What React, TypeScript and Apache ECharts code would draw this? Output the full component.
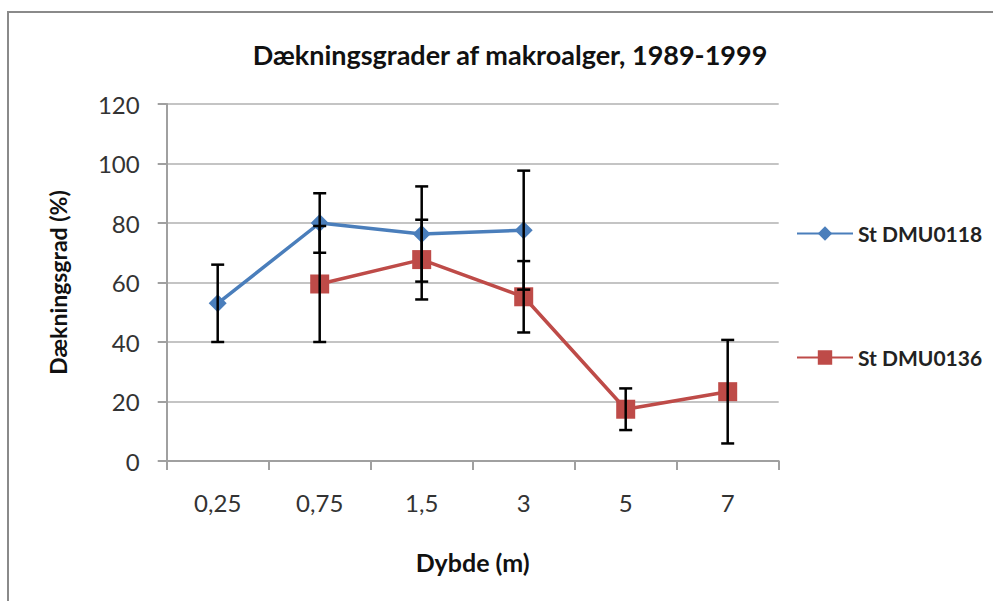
import React, { useEffect, useRef } from 'react';
import * as echarts from 'echarts';

const categories = ['0,25', '0,75', '1,5', '3', '5', '7'];
const seriesNames = ['St DMU0118', 'St DMU0136'];
const dmu0118 = [53, 80, 76.3, 77.6, null, null];
const dmu0118Err = [13, 10, 16, 20, null, null];
const dmu0136 = [null, 59.5, 67.7, 55.2, 17.4, 23.3];
const dmu0136Err = [null, 19.5, 13.4, 12, 7, 17.4];
const yMin = 0;
const yMax = 120;
const yInterval = 20;

const errData = (vals: (number | null)[], errs: (number | null)[]) =>
  vals
    .map((v, i) => (v == null || errs[i] == null ? null : [i, v - (errs[i] as number), v + (errs[i] as number)]))
    .filter((d) => d != null);

const FONT = 'Lato';

export default function App() {
  const ref = useRef<HTMLDivElement>(null);
  useEffect(() => {
    if (!ref.current) return;
    const chart = echarts.init(ref.current, null, { renderer: 'svg' });
    const errRender = (params: any, api: any) => {
      const x = api.value(0);
      const lo = api.value(1);
      const hi = api.value(2);
      const p1 = api.coord([x, hi]);
      const p2 = api.coord([x, lo]);
      const hw = 6.5;
      const style = { stroke: '#000', lineWidth: 2.5 };
      return {
        type: 'group',
        children: [
          { type: 'line', shape: { x1: p1[0], y1: p1[1], x2: p2[0], y2: p2[1] }, style },
          { type: 'line', shape: { x1: p1[0] - hw, y1: p1[1], x2: p1[0] + hw, y2: p1[1] }, style },
          { type: 'line', shape: { x1: p2[0] - hw, y1: p2[1], x2: p2[0] + hw, y2: p2[1] }, style },
        ],
      };
    };
    const legendText = { fontFamily: FONT, fontSize: 21, fontWeight: 'bold', color: '#222' };
    chart.setOption({
      animation: false,
      backgroundColor: '#fff',
      title: {
        text: 'Dækningsgrader af makroalger, 1989-1999',
        left: 505,
        textAlign: 'center',
        top: 36,
        textStyle: { fontFamily: FONT, fontSize: 27, fontWeight: 'bold', color: '#111' },
      },
      graphic: [
        {
          type: 'rect',
          shape: { x: 8, y: 12, width: 1000, height: 600 },
          style: { fill: 'none', stroke: '#8a8a8a', lineWidth: 2 },
          silent: true,
        },
      ],
      legend: [
        {
          data: [seriesNames[0]],
          left: 796,
          top: 232 - 9,
          padding: 0,
          itemWidth: 56,
          itemHeight: 18,
          textStyle: legendText,
        },
        {
          data: [seriesNames[1]],
          left: 796,
          top: 356 - 9,
          padding: 0,
          itemWidth: 56,
          itemHeight: 18,
          textStyle: legendText,
        },
      ],
      grid: { left: 166.7, right: 214.3, top: 104, bottom: 140 },
      xAxis: {
        type: 'category',
        data: categories,
        boundaryGap: true,
        name: 'Dybde (m)',
        nameLocation: 'middle',
        nameGap: 88,
        nameTextStyle: { fontFamily: FONT, fontSize: 25, fontWeight: 'bold', color: '#111' },
        axisLine: { lineStyle: { color: '#a0a0a0', width: 2 } },
        axisTick: { show: true, length: 9, lineStyle: { color: '#a0a0a0', width: 2 } },
        axisLabel: { fontFamily: FONT, fontSize: 24, color: '#333', margin: 29 },
        splitLine: { show: false },
      },
      yAxis: {
        type: 'value',
        min: yMin,
        max: yMax,
        interval: yInterval,
        name: 'Dækningsgrad (%)',
        nameLocation: 'middle',
        nameGap: 97,
        nameRotate: 90,
        nameTextStyle: { fontFamily: FONT, fontSize: 23, fontWeight: 'bold', color: '#111' },
        axisLine: { show: true, lineStyle: { color: '#a0a0a0', width: 2 } },
        axisTick: { show: true, length: 9, lineStyle: { color: '#a0a0a0', width: 2 } },
        axisLabel: { fontFamily: FONT, fontSize: 24, color: '#333', margin: 27 },
        splitLine: { show: true, lineStyle: { color: '#c4c4c4', width: 2 } },
      },
      series: [
        {
          name: 'err0118',
          type: 'custom',
          renderItem: errRender,
          data: errData(dmu0118, dmu0118Err),
          z: 3,
          silent: true,
        },
        {
          name: 'err0136',
          type: 'custom',
          renderItem: errRender,
          data: errData(dmu0136, dmu0136Err),
          z: 3,
          silent: true,
        },
        {
          name: seriesNames[0],
          type: 'line',
          data: dmu0118,
          connectNulls: false,
          symbol: 'diamond',
          symbolSize: 18,
          itemStyle: { color: '#4a7ebb' },
          lineStyle: { color: '#4a7ebb', width: 3.5 },
          z: 2,
        },
        {
          name: seriesNames[1],
          type: 'line',
          data: dmu0136,
          connectNulls: false,
          symbol: 'rect',
          symbolSize: 19,
          itemStyle: { color: '#be4b48' },
          lineStyle: { color: '#be4b48', width: 3.5 },
          z: 2,
        },
      ],
    });
    return () => chart.dispose();
  }, []);
  return <div ref={ref} style={{ position: 'fixed', left: 0, top: 0, width: 993, height: 601 }} />;
}
